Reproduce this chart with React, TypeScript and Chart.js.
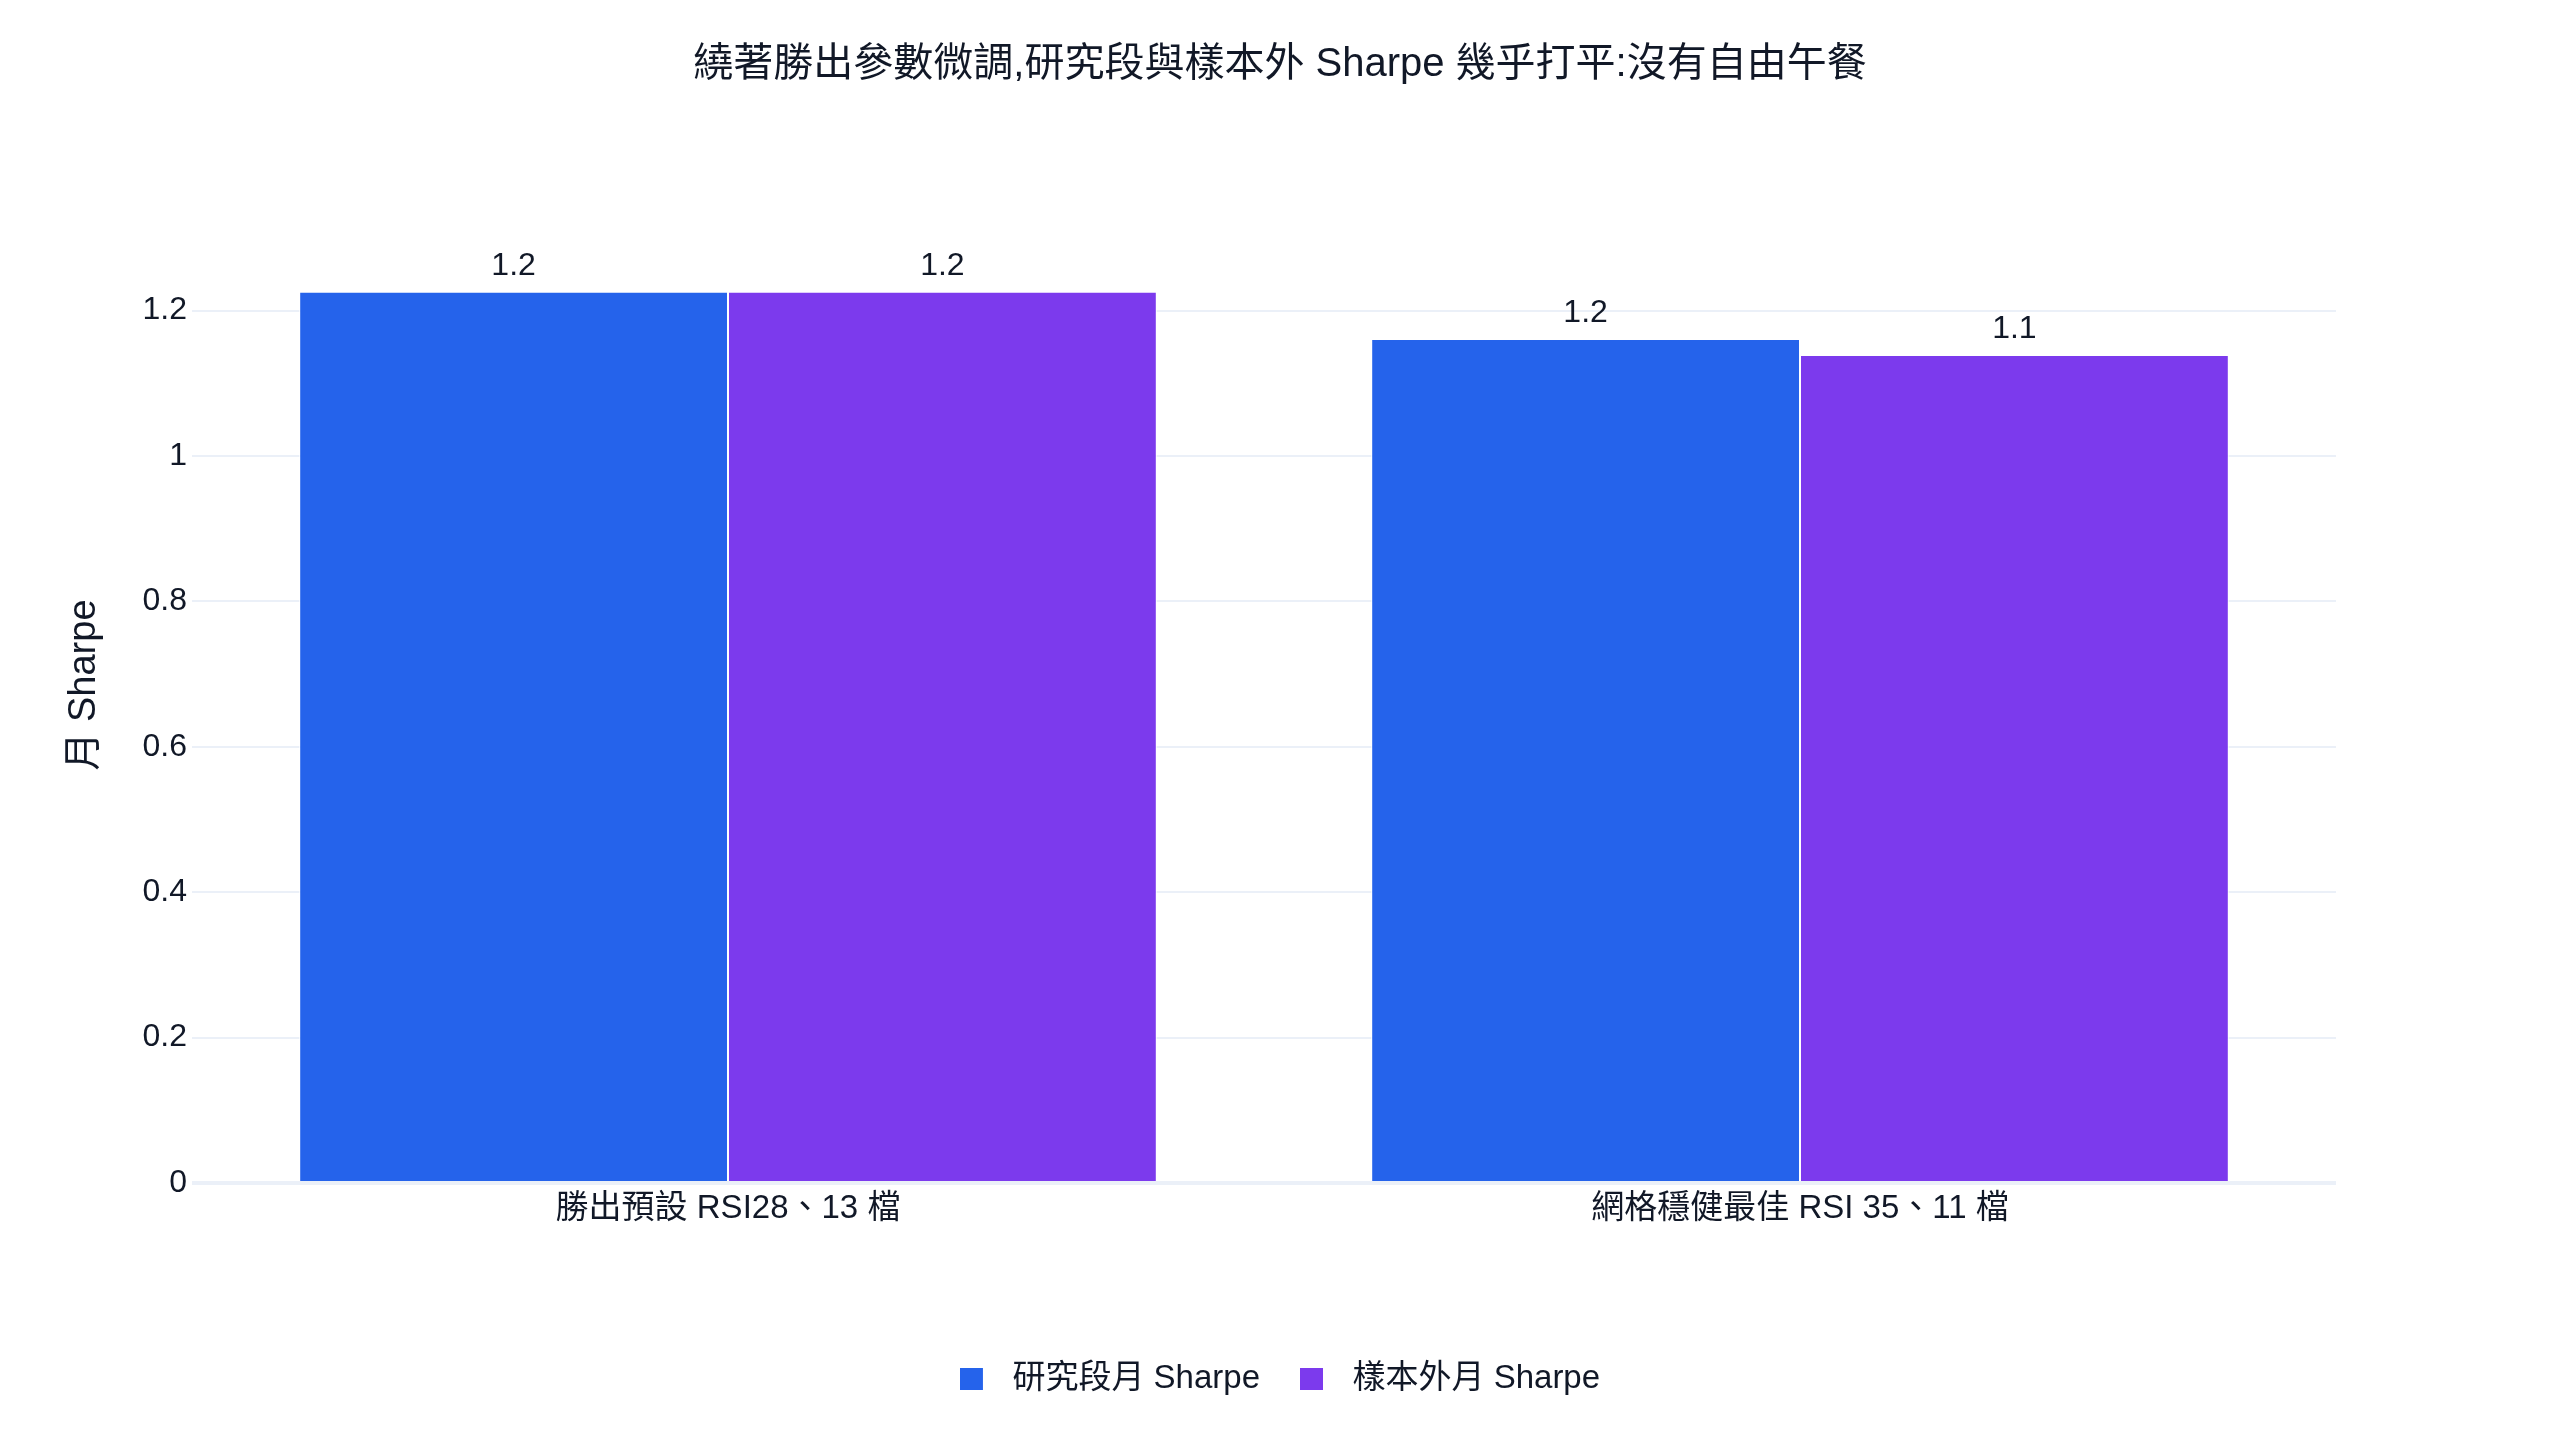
import React, { useEffect, useRef } from "react";
import { Chart, registerables } from "chart.js";

Chart.register(...registerables);

const titleText = "繞著勝出參數微調,研究段與樣本外 Sharpe 幾乎打平:沒有自由午餐";
const yAxisTitle = "月 Sharpe";
const categories = ["勝出預設 RSI28、13 檔", "網格穩健最佳 RSI 35、11 檔"];
const seriesLabels = ["研究段月 Sharpe", "樣本外月 Sharpe"];
const researchSharpe = [1.226, 1.161];
const outOfSampleSharpe = [1.226, 1.139];
const seriesColors = ["#2563EB", "#7C3AED"];
const yTicks = [0, 0.2, 0.4, 0.6, 0.8, 1, 1.2];
const yMax = 1.37;

const FONT = "'Liberation Sans', 'Noto Sans CJK TC', Arial, sans-serif";
const TEXT = "#111827";
const GRID = "#EBF0F8";

function makeSwatch(color: string) {
  const c = document.createElement("canvas");
  c.width = 36;
  c.height = 22;
  const g = c.getContext("2d")!;
  g.fillStyle = color;
  g.fillRect(0, 0, 23, 22);
  return c;
}

const valueLabels = {
  id: "valueLabels",
  afterDatasetsDraw(chart: any) {
    const ctx = chart.ctx;
    ctx.save();
    ctx.font = `32px ${FONT}`;
    ctx.fillStyle = TEXT;
    ctx.textAlign = "center";
    ctx.textBaseline = "middle";
    chart.data.datasets.forEach((ds: any, di: number) => {
      const meta = chart.getDatasetMeta(di);
      meta.data.forEach((el: any, i: number) => {
        const v = ds.data[i] as number;
        ctx.fillText(v.toFixed(1), el.x, el.y - 26);
      });
    });
    ctx.restore();
  },
};

export default function App() {
  const ref = useRef<HTMLCanvasElement | null>(null);

  useEffect(() => {
    if (!ref.current) return;
    const swatches = seriesColors.map(makeSwatch);
    const chart = new Chart(ref.current, {
      type: "bar",
      data: {
        labels: categories,
        datasets: [
          {
            label: seriesLabels[0],
            data: researchSharpe,
            backgroundColor: seriesColors[0],
            borderColor: "#ffffff",
            borderWidth: 1,
            categoryPercentage: 0.8,
            barPercentage: 1.0,
          },
          {
            label: seriesLabels[1],
            data: outOfSampleSharpe,
            backgroundColor: seriesColors[1],
            borderColor: "#ffffff",
            borderWidth: 1,
            categoryPercentage: 0.8,
            barPercentage: 1.0,
          },
        ],
      },
      options: {
        animation: false,
        responsive: false,
        devicePixelRatio: 1,
        layout: { padding: { top: 0, left: 0, right: 0, bottom: 35 } },
        plugins: {
          title: {
            display: true,
            text: titleText,
            color: TEXT,
            font: { family: FONT, size: 40, weight: "normal", lineHeight: 1.2 },
            padding: { top: 41, bottom: 98 },
          },
          legend: {
            display: true,
            position: "bottom",
            labels: {
              color: TEXT,
              font: { family: FONT, size: 33 },
              usePointStyle: true,
              pointStyleWidth: 36,
              padding: 40,
              generateLabels: (c: any) => {
                const items = (Chart as any).defaults.plugins.legend.labels.generateLabels(c);
                return items.map((it: any, i: number) => ({ ...it, pointStyle: swatches[i] }));
              },
            },
          },
          tooltip: { enabled: false },
        },
        scales: {
          x: {
            grid: { display: false, drawTicks: false },
            border: { display: false },
            ticks: {
              color: TEXT,
              font: { family: FONT, size: 33 },
              padding: 6,
              maxRotation: 0,
              autoSkip: false,
            },
            afterFit: (s: any) => {
              s.height = 139;
            },
          },
          y: {
            min: 0,
            max: yMax,
            position: "left",
            border: { display: false },
            grid: {
              color: GRID,
              drawTicks: false,
              lineWidth: (c: any) => (c.tick && c.tick.value === 0 ? 4 : 2),
            },
            ticks: {
              color: TEXT,
              font: { family: FONT, size: 32 },
              padding: 5,
              callback: (v: any) => String(Math.round(Number(v) * 10) / 10),
            },
            afterBuildTicks: (s: any) => {
              s.ticks = yTicks.map((v) => ({ value: v }));
            },
            title: {
              display: true,
              text: yAxisTitle,
              color: TEXT,
              font: { family: FONT, size: 38, lineHeight: 1.2 },
              padding: { top: 62, bottom: 0 },
            },
            afterFit: (s: any) => {
              s.width = 192;
            },
          },
          yRight: {
            type: "linear",
            position: "right",
            display: true,
            grid: { display: false, drawTicks: false },
            border: { display: false },
            ticks: { display: false },
            afterFit: (s: any) => {
              s.width = 224;
            },
          },
        },
      },
      plugins: [valueLabels],
    } as any);
    return () => chart.destroy();
  }, []);

  return (
    <div style={{ position: "fixed", left: 0, top: 0, width: 2560, height: 1440, background: "#ffffff" }}>
      <canvas ref={ref} width={2560} height={1440} style={{ display: "block", width: 2560, height: 1440 }} />
    </div>
  );
}
